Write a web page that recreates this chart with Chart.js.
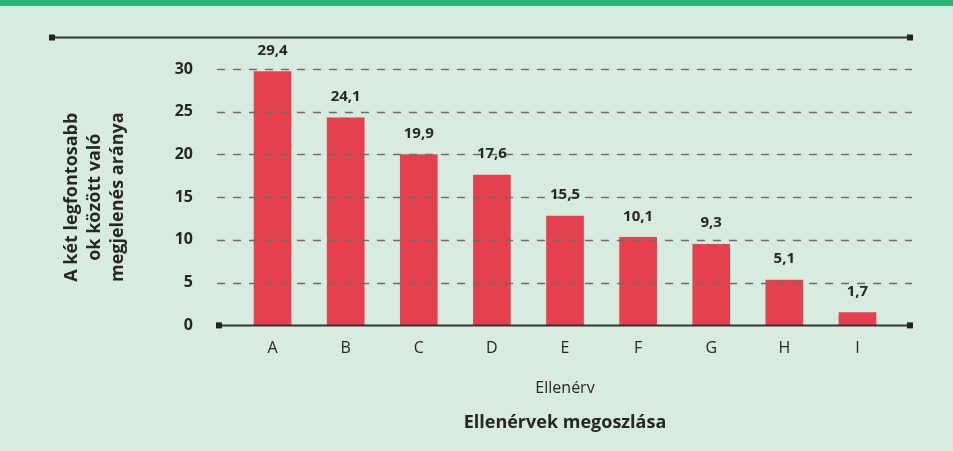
<!DOCTYPE html>
<html>
<head>
<meta charset="utf-8">
<script src="https://cdn.jsdelivr.net/npm/chart.js@4.4.0/dist/chart.umd.min.js"></script>
<style>
  html, body { margin: 0; padding: 0; background: #d7ecdf; }
  #wrap { position: relative; width: 953px; height: 451px; }
  #band { position: absolute; left: 0; top: 0; width: 953px; height: 6px; background: #2bb673; }
  canvas { display: block; }
</style>
</head>
<body>
<div id="wrap">
  <canvas id="chartCanvas" width="953" height="451"></canvas>
  <div id="band"></div>
</div>
<script>
const categories = ["A", "B", "C", "D", "E", "F", "G", "H", "I"];
// bar heights as drawn in the picture
const values = [29.7, 24.3, 20.0, 17.6, 12.8, 10.3, 9.5, 5.3, 1.5];
// printed labels above the bars
const valueLabels = ["29,4", "24,1", "19,9", "17,6", "15,5", "10,1", "9,3", "5,1", "1,7"];
const yTicks = [0, 5, 10, 15, 20, 25, 30];

const fontName = "'Open Sans', 'DejaVu Sans', sans-serif";
const textColor = "#262626";

// dashed grid, frame lines and bar labels
const decorPlugin = {
  id: "decor",
  afterDatasetsDraw(chart) {
    const ctx = chart.ctx;
    const area = chart.chartArea;
    const y = chart.scales.y;
    const left = area.left - 19, right = area.right + 18;

    ctx.save();
    // dashed gridlines
    ctx.strokeStyle = "#6b6b6b";
    ctx.lineWidth = 1.5;
    ctx.setLineDash([8, 8]);
    yTicks.forEach(v => {
      if (v === 0) return;
      const py = Math.round(y.getPixelForValue(v)) + 0.5;
      ctx.beginPath();
      ctx.moveTo(left, py);
      ctx.lineTo(right, py);
      ctx.stroke();
    });
    ctx.setLineDash([]);

    // baseline with end squares
    const by = y.getPixelForValue(0);
    ctx.strokeStyle = "#333";
    ctx.lineWidth = 2;
    ctx.beginPath();
    ctx.moveTo(left, by);
    ctx.lineTo(right, by);
    ctx.stroke();
    ctx.fillStyle = "#222";
    ctx.fillRect(left - 1, by - 3, 6, 6);
    ctx.fillRect(right - 5, by - 3, 6, 6);

    // top frame line
    const ty = 37.5;
    ctx.beginPath();
    ctx.moveTo(52, ty);
    ctx.lineTo(right, ty);
    ctx.stroke();
    ctx.fillRect(49, ty - 3, 6, 6);
    ctx.fillRect(right - 5, ty - 3, 6, 6);

    // value labels
    const meta = chart.getDatasetMeta(0);
    ctx.fillStyle = textColor;
    ctx.font = "bold 15px " + fontName;
    ctx.textAlign = "center";
    ctx.textBaseline = "middle";
    meta.data.forEach((bar, i) => {
      ctx.fillText(valueLabels[i], bar.x, bar.y - 21);
    });
    ctx.restore();
  }
};

new Chart(document.getElementById("chartCanvas"), {
  type: "bar",
  data: {
    labels: categories,
    datasets: [{
      data: values,
      backgroundColor: "#e5404d",
      borderWidth: 0,
      barThickness: 37,
    }]
  },
  options: {
    responsive: false,
    animation: false,
    layout: { padding: { top: 69, right: 59, bottom: 0, left: 0 } },
    scales: {
      x: {
        grid: { display: false, drawTicks: false },
        border: { display: false },
        ticks: { color: textColor, padding: 13, font: { family: fontName, size: 16 } },
        title: {
          display: true,
          text: "Ellenérv",
          color: textColor,
          font: { family: fontName, size: 16 },
          padding: { top: 0, bottom: 11 }
        },
        afterFit: s => { s.height = 84; }
      },
      y: {
        min: 0,
        max: 30,
        grid: { display: false, drawTicks: false },
        border: { display: false },
        ticks: {
          stepSize: 5,
          padding: 43,
          color: textColor,
          font: { family: fontName, size: 16, weight: "bold" }
        },
        title: {
          display: true,
          text: ["A két legfontosabb", "ok között való", "megjelenés aránya"],
          color: textColor,
          font: { family: fontName, size: 18, weight: "bold", lineHeight: 1.28 },
          padding: { top: 60, bottom: 0 }
        },
        afterFit: s => { s.width = 236; }
      }
    },
    plugins: {
      legend: { display: false },
      tooltip: { enabled: false },
      title: {
        display: true,
        position: "bottom",
        fullSize: false,
        text: "Ellenérvek megoszlása",
        color: textColor,
        font: { family: fontName, size: 18, weight: "bold" },
        padding: { top: 3, bottom: 17 }
      }
    }
  },
  plugins: [decorPlugin]
});
</script>
</body>
</html>
